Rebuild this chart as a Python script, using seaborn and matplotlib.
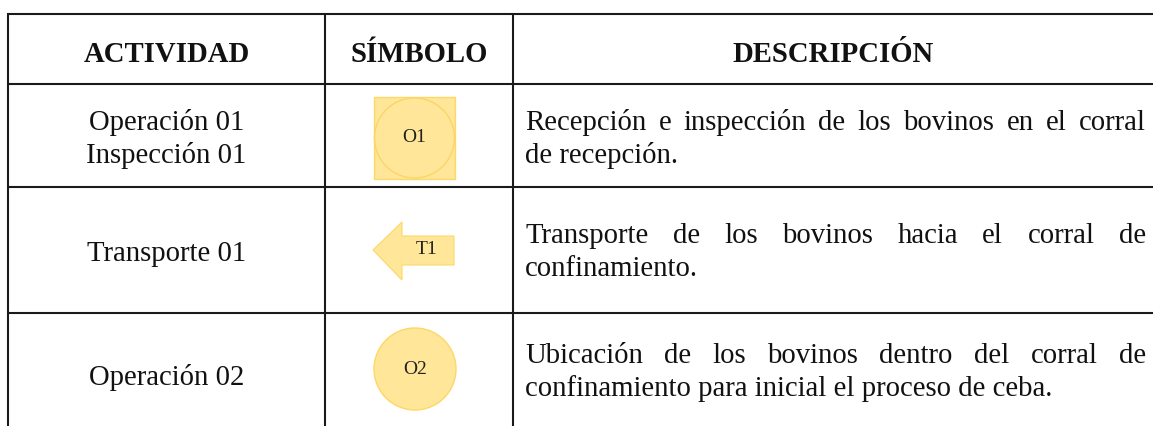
import matplotlib
matplotlib.use("Agg")
import matplotlib.pyplot as plt
import matplotlib.patches as mpatches
import seaborn as sns

# table content
headers = ["ACTIVIDAD", "SÍMBOLO", "DESCRIPCIÓN"]
actividades = [["Operación 01", "Inspección 01"], ["Transporte 01"], ["Operación 02"]]
simbolos = ["O1", "T1", "O2"]
formas = ["cuadrado", "flecha", "circulo"]
descripciones = [
    ["Recepción e inspección de los bovinos en el corral", "de recepción."],
    ["Transporte de los bovinos hacia el corral de", "confinamiento."],
    ["Ubicación de los bovinos dentro del corral de",
     "confinamiento para inicial el proceso de ceba."],
]

sns.set_theme(style="white")
plt.rcParams["font.family"] = ["Liberation Serif", "DejaVu Serif"]

W, H = 1153, 426
fig = plt.figure(figsize=(W / 100, H / 100), dpi=100)
ax = fig.add_axes([0, 0, 1, 1])
ax.set_xlim(0, W)
ax.set_ylim(H, 0)
ax.axis("off")

col_x = [8, 325, 513, 1153]
row_y = [14, 84, 187, 313, 426]
line_kw = dict(color="#1a1a1a", lw=1.5, solid_capstyle="butt")
for y in row_y[:-1]:
    ax.plot([col_x[0] - 0.7, col_x[-1]], [y, y], **line_kw)
for x in col_x[:-1]:
    ax.plot([x, x], [row_y[0], row_y[-1]], **line_kw)

fs = 20.7
txt_color = "#111111"

# headers
for i, h in enumerate(headers):
    cx = (col_x[i] + col_x[i + 1]) / 2
    ax.text(cx, 62, h, ha="center", va="baseline", fontsize=fs,
            fontweight="bold", color=txt_color)

# activity column
act_base = [[130, 163], [261], [385]]
for lines, bases in zip(actividades, act_base):
    for s, b in zip(lines, bases):
        ax.text(166.5, b, s, ha="center", va="baseline", fontsize=fs, color=txt_color)

# symbols
fill = "#ffe699"
edge = "#fdd866"
sym_fs = 14
for sym, forma in zip(simbolos, formas):
    if forma == "cuadrado":
        ax.add_patch(mpatches.Rectangle((374, 97), 81, 82, facecolor=fill,
                                        edgecolor=edge, lw=1))
        ax.add_patch(mpatches.Circle((414.5, 138), 40, facecolor="none",
                                     edgecolor="#fbd56a", lw=1))
        ax.text(414.5, 138, sym, ha="center", va="center", fontsize=sym_fs, color="#222")
    elif forma == "flecha":
        pts = [(373, 250), (402, 222), (402, 236), (454, 236),
               (454, 265), (402, 265), (402, 280)]
        ax.add_patch(mpatches.Polygon(pts, closed=True, facecolor=fill,
                                      edgecolor=edge, lw=0.8))
        ax.text(427, 250, sym, ha="center", va="center", fontsize=sym_fs, color="#222")
    else:
        ax.add_patch(mpatches.Circle((415, 369), 41, facecolor=fill,
                                     edgecolor=edge, lw=1))
        ax.text(415, 369, sym, ha="center", va="center", fontsize=sym_fs, color="#222")

# description column, justified except last line
renderer = fig.canvas.get_renderer()
x0, x1 = 525, 1146
desc_base = [[130, 163], [243, 276], [363, 396]]
for lines, bases in zip(descripciones, desc_base):
    for k, (s, b) in enumerate(zip(lines, bases)):
        if k == len(lines) - 1:
            ax.text(x0, b, s, ha="left", va="baseline", fontsize=fs, color=txt_color)
            continue
        words = s.split()
        texts = [ax.text(0, b, w, ha="left", va="baseline", fontsize=fs,
                         color=txt_color) for w in words]
        widths = [t.get_window_extent(renderer).width for t in texts]
        gap = (x1 - x0 - sum(widths)) / (len(words) - 1)
        x = x0
        for t, w in zip(texts, widths):
            t.set_x(x)
            x += w + gap

fig.savefig("out.png", dpi=100, facecolor="white")
